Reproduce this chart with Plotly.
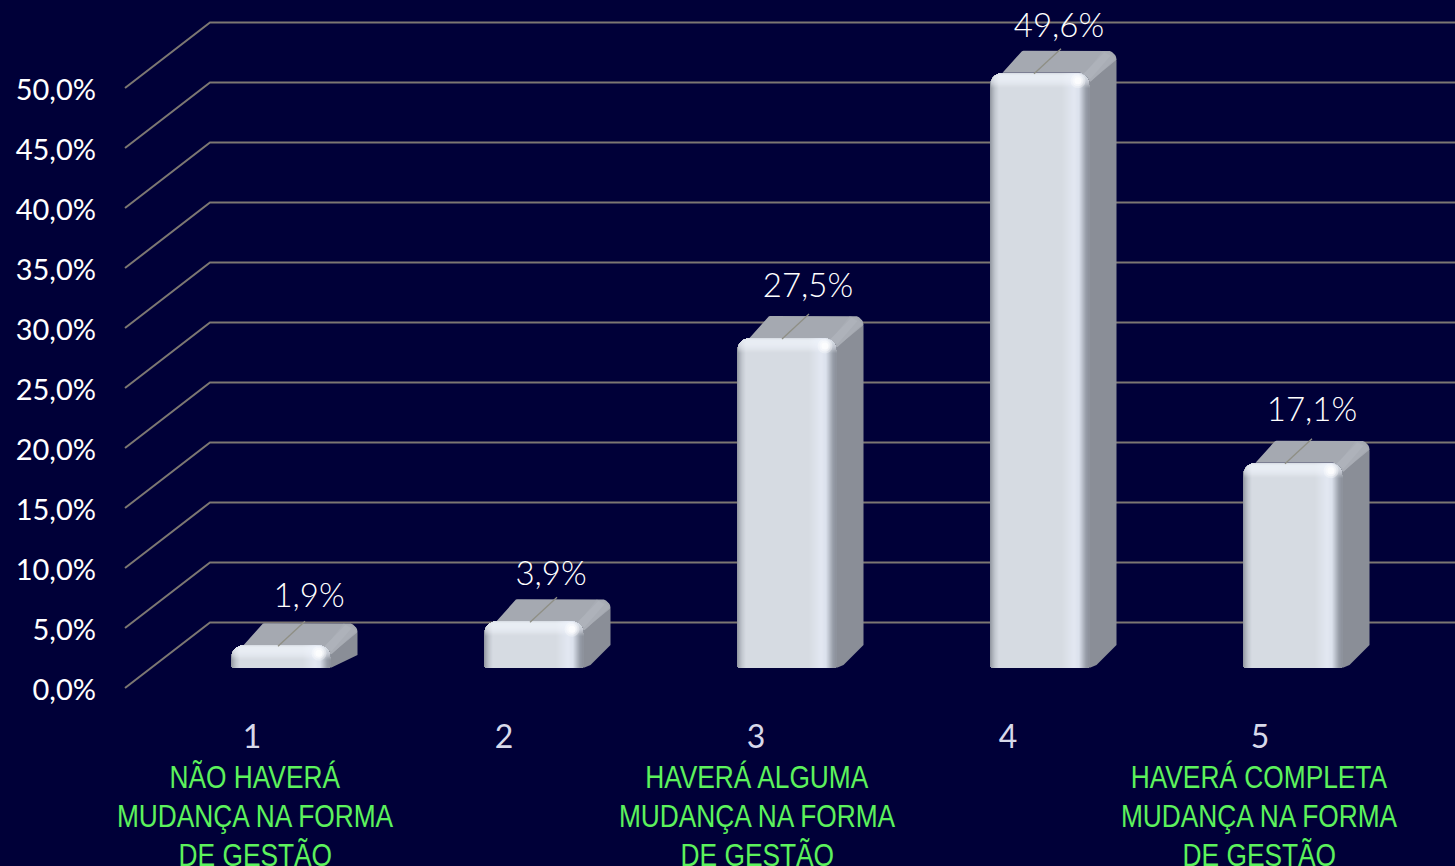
import math
import plotly.graph_objects as go

# ---- data ----
CATEGORIES = ["1", "2", "3", "4", "5"]
VALUES = [1.9, 3.9, 27.5, 49.6, 17.1]
VALUE_LABELS = ["1,9%", "3,9%", "27,5%", "49,6%", "17,1%"]
Y_TICKS = [0, 5, 10, 15, 20, 25, 30, 35, 40, 45, 50]
Y_TICK_LABELS = ["0,0%", "5,0%", "10,0%", "15,0%", "20,0%", "25,0%", "30,0%", "35,0%", "40,0%", "45,0%", "50,0%"]
CAPTION_1 = ["NÃO HAVERÁ", "MUDANÇA NA FORMA", "DE GESTÃO"]
CAPTION_3 = ["HAVERÁ ALGUMA", "MUDANÇA NA FORMA", "DE GESTÃO"]
CAPTION_5 = ["HAVERÁ COMPLETA", "MUDANÇA NA FORMA", "DE GESTÃO"]

# ---- layout constants (x axis runs in page pixels, y axis in percent) ----
PX = 12.0                     # pixels per percent
BG = "#000038"
BASE = 20 / PX                # floor height of the bars in the oblique view
BAR_CENTERS = [281, 534, 787, 1040, 1293]
BAR_W = 99
TICK_X = [252, 504, 756, 1008, 1260]
CAPTION_X = {0: 255, 2: 757, 4: 1259}
LABEL_DX = [28, 17, 21, 19, 19]
LABEL_DY = [46.5, 44.5, 49.5, 44.5, 50.5]
LEAD_DX = [-3, -4, -5, -6, -8]
WALL_DX, WALL_DY = 85, 65.5 / PX
R_TOP = 12
PLOT_BOTTOM = 715
GLINT = [(15, 0.30), (11, 0.40), (7, 0.70)]


def mix(a, b, t):
    ca = [int(a[i:i + 2], 16) for i in (1, 3, 5)]
    cb = [int(b[i:i + 2], 16) for i in (1, 3, 5)]
    return "rgb(%d,%d,%d)" % tuple(round(p + (q - p) * t) for p, q in zip(ca, cb))


def ramp(stops, u):
    for (u0, c0), (u1, c1) in zip(stops, stops[1:]):
        if u <= u1:
            return mix(c0, c1, (u - u0) / (u1 - u0) if u1 > u0 else 0)
    return stops[-1][1]


fig = go.Figure()

# ---- wall grid: oblique floor-to-wall line plus back-wall line per tick ----
gx, gy = [], []
for t in Y_TICKS:
    gx += [125, 125 + WALL_DX, 1455, None]
    gy += [t, t + WALL_DY, t + WALL_DY, None]
fig.add_trace(go.Scatter(x=gx, y=gy, mode="lines", line=dict(color="#7c7772", width=2),
                         hoverinfo="skip", showlegend=False, zorder=-5))


def arc(cx, cy, r, a0, a1, n=6):
    return [(cx + r * math.cos(math.radians(a0 + (a1 - a0) * i / n)),
             cy + r * math.sin(math.radians(a0 + (a1 - a0) * i / n))) for i in range(n + 1)]


def poly_trace(shape_fn, color, zorder):
    xs, ys = [], []
    for c, v in zip(BAR_CENTERS, VALUES):
        left = c - BAR_W / 2
        top = v + BASE
        for dx, dy in shape_fn(v):            # dy in pixels, up is positive
            xs.append(left + dx)
            ys.append(top + dy / PX)
        xs.append(None)
        ys.append(None)
    fig.add_trace(go.Scatter(x=xs, y=ys, mode="lines", fill="toself", fillcolor=color,
                             line=dict(width=0, color=color), hoverinfo="skip",
                             showlegend=False, zorder=zorder))


# ---- side face ----
def side(v):
    h = v * PX
    rise = min(23, h * 0.57)
    return [(90, 0), (117, 21)] + arc(117, 12, 9, 90, 0) + [(126, -h + rise), (106, -h + 3), (100, -h + 0.5), (92, -h)]


poly_trace(side, "#8a8e97", -2)


# ---- top face ----
def top_face(v):
    return ([(12, 0), (29, 19)] + arc(33, 18, 4, 160, 90, 3) + [(117, 22)]
            + arc(117, 13, 9, 90, 0) + [(98, -10), (90, 0)])


poly_trace(top_face, "#a5a9b1", -1)


def top_band1(v):
    return [(92, -4), (112, 21.5), (119, 20.5), (125, 14), (100, -9)]


poly_trace(top_band1, "#a9adb5", -1)


def top_band2(v):
    return [(92, -2), (114, 20.5), (120, 17), (100, -6)]


poly_trace(top_band2, "#aeb2ba", -1)

# ---- front face: vertical shading strips, rounded at the top ----
COLUMN_STOPS = [(0, "#8f949e"), (2, "#a6abb4"), (5, "#c2c7cf"), (9, "#d6dbe2"),
                (72, "#d6dbe2"), (84, "#e3e8f2"), (89, "#dbe1ec"), (93, "#b4bac5"),
                (96, "#979da8"), (99, "#8c919b")]
edges = list(range(0, 15)) + list(range(70, BAR_W + 1))
for a, b in zip(edges, edges[1:]):
    mid = (a + b) / 2
    col = ramp(COLUMN_STOPS, mid)
    d = 0.0
    if mid < R_TOP:
        d = R_TOP - math.sqrt(R_TOP ** 2 - (R_TOP - mid) ** 2)
    elif BAR_W - mid < R_TOP:
        d = R_TOP - math.sqrt(R_TOP ** 2 - (R_TOP - (BAR_W - mid)) ** 2)
    floor = 0.0
    em = min(mid, BAR_W - mid)
    if em < 3:
        floor = 3 - math.sqrt(9 - (3 - em) ** 2)
    fig.add_trace(go.Bar(
        x=[c - BAR_W / 2 + mid for c in BAR_CENTERS],
        y=[v - (d + floor) / PX for v in VALUES],
        base=[BASE + floor / PX] * len(VALUES),
        width=b - a, marker=dict(color=col, line=dict(width=0)),
        hoverinfo="skip", showlegend=False, zorder=0))

# ---- front face: bright bevel along the top edge ----
ROW_ALPHA = [0.15, 0.45, 0.6, 0.62, 0.62, 0.6, 0.58, 0.55, 0.5, 0.45, 0.38, 0.3, 0.2, 0.12, 0.05]
for j, alpha in enumerate(ROW_ALPHA):
    inset = 0.0
    if j + 0.5 < R_TOP:
        inset = R_TOP - math.sqrt(R_TOP ** 2 - (R_TOP - j - 0.5) ** 2)
    fig.add_trace(go.Bar(
        x=BAR_CENTERS,
        y=[1 / PX] * len(VALUES),
        base=[v + BASE - (j + 1) / PX for v in VALUES],
        width=BAR_W - 2 * inset,
        marker=dict(color="rgba(244,248,255,%.2f)" % alpha, line=dict(width=0)),
        hoverinfo="skip", showlegend=False, zorder=1))

# ---- corner glint ----
for size, alpha in GLINT:
    fig.add_trace(go.Scatter(
        x=[c + 38 for c in BAR_CENTERS], y=[v + BASE - 8 / PX for v in VALUES], mode="markers",
        marker=dict(size=size, color="rgba(255,255,255,%.2f)" % alpha, line=dict(width=0)),
        hoverinfo="skip", showlegend=False, zorder=2))

# ---- leader lines ----
lx, ly = [], []
for c, v, ld in zip(BAR_CENTERS, VALUES, LEAD_DX):
    top = v + BASE
    lx += [c + ld, c + ld + 27, None]
    ly += [top - 1 / PX, top + 24 / PX, None]
fig.add_trace(go.Scatter(x=lx, y=ly, mode="lines", line=dict(color="#8f8f85", width=1.3),
                         hoverinfo="skip", showlegend=False, zorder=3))

# ---- value labels ----
fig.add_trace(go.Scatter(
    x=[c + d for c, d in zip(BAR_CENTERS, LABEL_DX)],
    y=[v + BASE + dy / PX for v, dy in zip(VALUES, LABEL_DY)],
    mode="text", text=VALUE_LABELS, textposition="middle center",
    textfont=dict(family="Lato", size=33, color="#ffffff", weight=300),
    hoverinfo="skip", showlegend=False, zorder=4, cliponaxis=False))

# ---- captions ----
annotations = []
for idx, lines in ((0, CAPTION_1), (2, CAPTION_3), (4, CAPTION_5)):
    for k, line in enumerate(lines):
        annotations.append(dict(
            x=CAPTION_X[idx], y=(PLOT_BOTTOM - (777 + 39 * k)) / PLOT_BOTTOM, xref="x", yref="paper",
            text=line, showarrow=False, xanchor="center", yanchor="middle",
            font=dict(family="Liberation Sans", size=32, color="#5CF25C")))

fig.update_layout(
    width=1455, height=866,
    margin=dict(l=97, r=0, t=0, b=866 - PLOT_BOTTOM, pad=0),
    paper_bgcolor=BG, plot_bgcolor=BG,
    barmode="overlay", bargap=0,
    showlegend=False,
    annotations=annotations,
    xaxis=dict(range=[97, 1455], tickmode="array", tickvals=TICK_X, ticktext=CATEGORIES,
               showgrid=False, zeroline=False, showline=False, ticks="",
               tickfont=dict(family="Lato", size=32, color="#d7d9ea")),
    yaxis=dict(range=[(688 - PLOT_BOTTOM) / PX, 688 / PX], tickmode="array", tickvals=Y_TICKS,
               ticktext=Y_TICK_LABELS, showgrid=False, zeroline=False, showline=False,
               ticklabelshift=2,
               ticks="", tickfont=dict(family="Lato", size=29, color="#ffffff")),
)

# the captions are set in a narrow cut: squeeze the real text to that width
NARROW = """
document.body.style.margin='0';document.body.style.background='%s';
document.body.style.overflow='hidden';
setTimeout(function(){
  document.querySelectorAll('.annotation-text').forEach(function(t){
    var L=t.getComputedTextLength();
    t.setAttribute('textLength',L*0.822);
    t.setAttribute('lengthAdjust','spacingAndGlyphs');
  });
},30);
""" % BG

fig.write_html("out.html", config=dict(displayModeBar=False), post_script=NARROW)
